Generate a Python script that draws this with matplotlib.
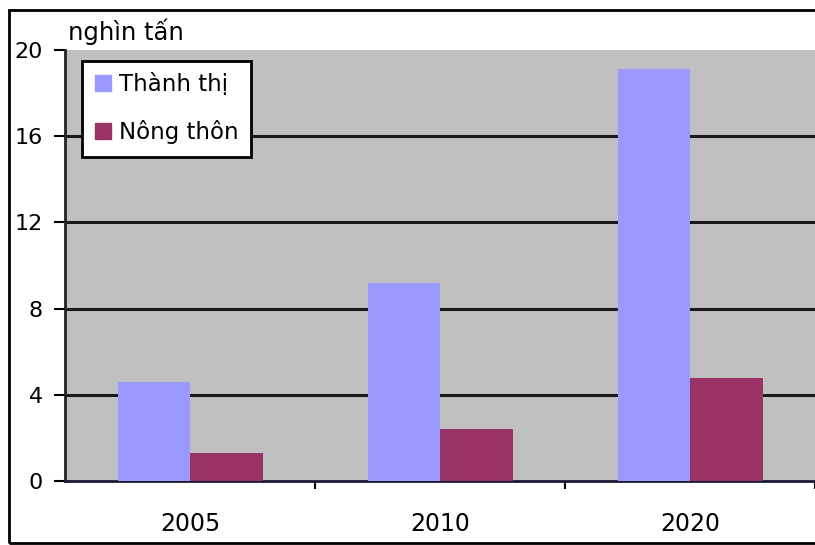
import matplotlib.pyplot as plt
from matplotlib.patches import Patch, Rectangle

# dữ liệu
nam = ['2005', '2010', '2020']
thanh_thi = [4.6, 9.2, 19.1]
nong_thon = [1.3, 2.4, 4.8]

mau_tt = '#9999FF'
mau_nt = '#993366'

plt.rcParams['font.family'] = ['DejaVu Sans']

fig = plt.figure(figsize=(8.15, 5.45), dpi=100)
ax = fig.add_axes([65/815, 64/545, 750/815, 431/545])
ax.set_facecolor('#C0C0C0')

x = list(range(len(nam)))
w = 0.29
ax.bar([i - w/2 for i in x], thanh_thi, width=w, color=mau_tt, zorder=3)
ax.bar([i + w/2 for i in x], nong_thon, width=w, color=mau_nt, zorder=3)

ax.set_xlim(-0.5, 2.5)
ax.set_ylim(0, 20)
ax.set_yticks([0, 4, 8, 12, 16, 20])
ax.set_yticklabels(['0', '4', '8', '12', '16', '20'], fontsize=16)
for y in [4, 8, 12, 16]:
    ax.axhline(y, color='#1a1a1a', lw=2.2, zorder=1)

# nhãn năm ở giữa, vạch chia ở ranh giới
ax.set_xticks(x)
ax.set_xticklabels(nam, fontsize=17)
ax.tick_params(axis='x', length=0, pad=22)
ax.set_xticks([0.5, 1.5, 2.5], minor=True)
ax.tick_params(axis='x', which='minor', length=6, width=1.5, direction='out')
ax.tick_params(axis='y', length=8, width=1.5, pad=8)

for s in ['top', 'right']:
    ax.spines[s].set_visible(False)
ax.spines['left'].set_linewidth(2)
ax.spines['left'].set_color('#222222')
ax.spines['bottom'].set_linewidth(2)
ax.spines['bottom'].set_color('#1a1a33')

ax.text(0.004, 1.012, 'nghìn tấn', transform=ax.transAxes, fontsize=17.5,
        ha='left', va='bottom')

handles = [Patch(color=mau_tt, label='Thành thị'),
           Patch(color=mau_nt, label='Nông thôn')]
leg = ax.legend(handles=handles, loc='upper left', bbox_to_anchor=(0.023, 0.975),
                borderaxespad=0, fontsize=16.5, handlelength=0.7, handleheight=0.7,
                handletextpad=0.35, labelspacing=1.05, fancybox=False,
                framealpha=1, edgecolor='black', borderpad=0.55)
leg.get_frame().set_linewidth(2)
leg.set_zorder(5)

# khung ngoài
fig.patches.append(Rectangle((9/815, 2/545), 1.0, 533/545, transform=fig.transFigure,
                             fill=False, edgecolor='black', lw=2, clip_on=False))

fig.savefig('out.png', dpi=100)
